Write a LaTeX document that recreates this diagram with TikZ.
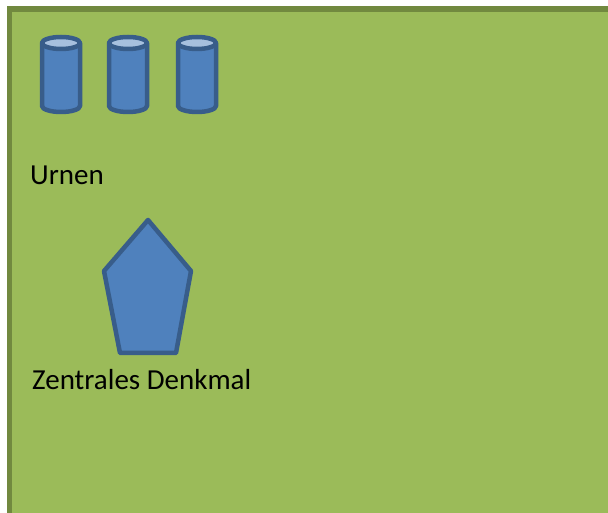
\documentclass[tikz,border=0pt]{standalone}
\usepackage{fontspec}
\setmainfont{Carlito}
\definecolor{wiese}{HTML}{9BBB59}
\definecolor{wiesenrand}{HTML}{71893F}
\definecolor{stein}{HTML}{4F81BD}
\definecolor{steinrand}{HTML}{385D8A}
\definecolor{deckel}{HTML}{A7C0DE}
\tikzset{
  urne/.style={fill=stein, draw=steinrand, line width=4.5pt, line join=round},
  beschriftung/.style={anchor=base west, inner sep=0pt, font=\fontsize{29}{34}\selectfont}
}
\begin{document}
\begin{tikzpicture}[x=1pt,y=1pt]
    \useasboundingbox (0,0) rectangle (608,512);
    \clip (0,0) rectangle (608,512);
    % gruene Flaeche
    \draw [fill=wiese, draw=wiesenrand, line width=5.5pt] (9.5,503) rectangle (640,-30);

    % Urnen
    \foreach \cx in {61,128,197} {
      \draw [urne] (\cx-19,469) -- (\cx-19,406)
            arc [start angle=180, end angle=360, x radius=19, y radius=6]
            -- (\cx+19,469) -- cycle;
      \draw [urne, fill=deckel] (\cx,469) ellipse [x radius=19, y radius=6];
    }

    % Denkmal
    \draw [urne] (148,292) -- (191,241) -- (176,159) -- (120,159) -- (104,241) -- cycle;

    % Beschriftungen
    \node [beschriftung] (urnen) at (30,327) {Urnen};
    \node [beschriftung] (denkmal) at (32,123) {Zentrales Denkmal};
\end{tikzpicture}
\end{document}
